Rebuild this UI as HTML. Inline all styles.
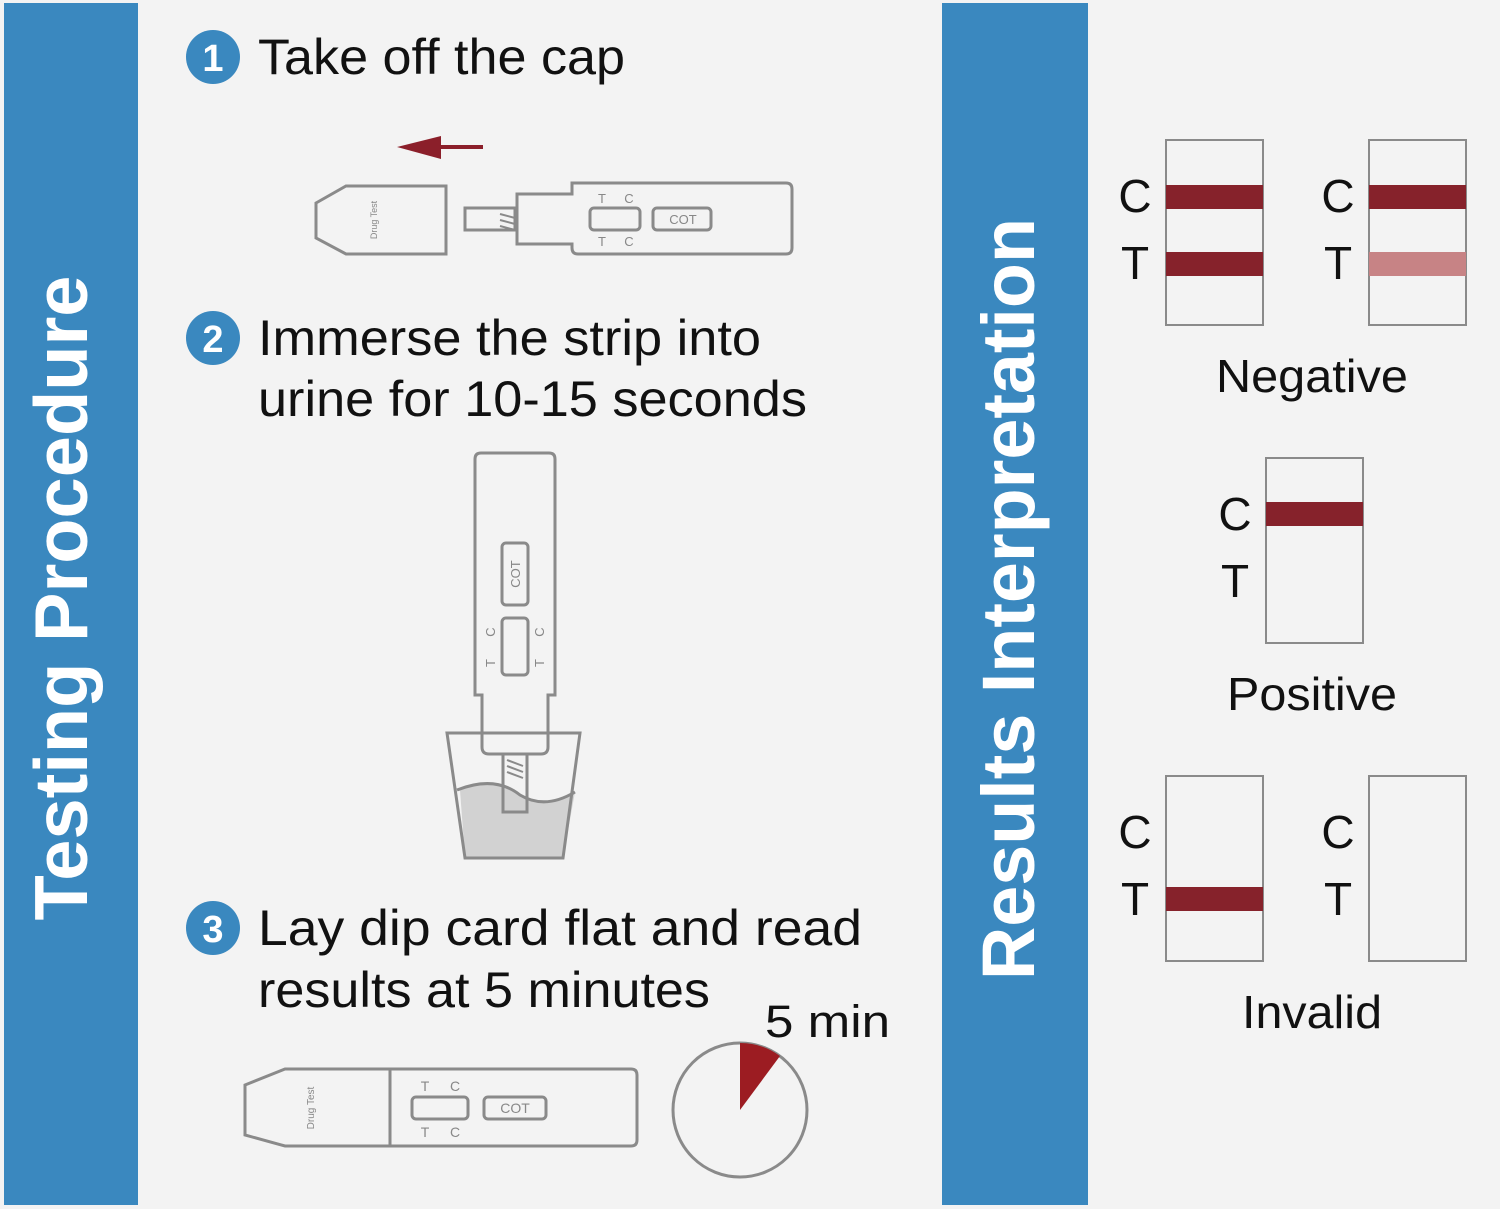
<!DOCTYPE html>
<html><head><meta charset="utf-8"><style>
html,body{margin:0;padding:0;background:#f3f3f3}
svg{display:block}
text{font-family:"Liberation Sans",Arial,sans-serif}
</style></head><body>
<svg width="1500" height="1209" viewBox="0 0 1500 1209" xmlns="http://www.w3.org/2000/svg">
<rect width="1500" height="1209" fill="#f3f3f3"/>
<rect x="4" y="3" width="134" height="1202" fill="#3a88bf"/>
<rect x="942" y="3" width="146" height="1202" fill="#3a88bf"/>
<text transform="translate(87,598) rotate(-90)" text-anchor="middle" font-size="75" font-weight="bold" fill="#fff" textLength="645" lengthAdjust="spacingAndGlyphs">Testing Procedure</text>
<text transform="translate(1034,599) rotate(-90)" text-anchor="middle" font-size="74" font-weight="bold" fill="#fff" textLength="762" lengthAdjust="spacingAndGlyphs">Results Interpretation</text>

<g fill="#3a88bf"><circle cx="213" cy="57" r="27"/><circle cx="213" cy="338" r="27"/><circle cx="213" cy="928" r="27"/></g>
<g fill="#fff" font-size="38" font-weight="bold" text-anchor="middle"><text x="213" y="71">1</text><text x="213" y="352">2</text><text x="213" y="942">3</text></g>
<g font-size="50" fill="#111">
<text x="258" y="74" textLength="367" lengthAdjust="spacingAndGlyphs">Take off the cap</text>
<text x="258" y="355" textLength="503" lengthAdjust="spacingAndGlyphs">Immerse the strip into</text>
<text x="258" y="416" textLength="549" lengthAdjust="spacingAndGlyphs">urine for 10-15 seconds</text>
<text x="258" y="945" textLength="604" lengthAdjust="spacingAndGlyphs">Lay dip card flat  and read</text>
<text x="258" y="1007" textLength="452" lengthAdjust="spacingAndGlyphs">results at 5 minutes</text>
<text x="765" y="1037" font-size="45" textLength="125" lengthAdjust="spacingAndGlyphs">5 min</text>
</g>

<!-- step1 -->
<line x1="483" y1="147" x2="430" y2="147" stroke="#8b1f2a" stroke-width="4"/>
<polygon points="397,147 441,136 441,159" fill="#8b1f2a"/>
<g fill="none" stroke="#8a8a8a" stroke-width="3">
<path d="M316,203 L346,186 L446,186 L446,254 L346,254 L316,238 Z"/>
<rect x="465" y="208" width="50" height="22"/>
<path d="M517,194 L572,194 L572,183 L786,183 Q792,183 792,189 L792,248 Q792,254 786,254 L578,254 Q572,254 572,248 L572,244 L517,244 Z"/>
<rect x="590" y="208" width="50" height="22" rx="4"/>
<rect x="653" y="208" width="58" height="22" rx="4"/>
<path d="M500,214 L515,218 M500,220 L515,224 M500,226 L515,230" stroke-width="2"/>
</g>
<text transform="translate(377,220) rotate(-90)" text-anchor="middle" font-size="9" fill="#888">Drug Test</text>
<g font-size="13" fill="#888" text-anchor="middle"><text x="602" y="203">T</text><text x="629" y="203">C</text><text x="602" y="246">T</text><text x="629" y="246">C</text><text x="683" y="224">COT</text></g>

<!-- step2 -->
<path d="M460,790 Q495,775 520,795 Q545,810 575,792 L563,858 L465,858 Z" fill="#d2d2d2"/>
<g fill="none" stroke="#8a8a8a" stroke-width="3">
<path d="M481,453 L549,453 Q555,453 555,459 L555,695 L548,695 L548,747 Q548,754 541,754 L489,754 Q482,754 482,747 L482,695 L475,695 L475,459 Q475,453 481,453 Z"/>
<rect x="503" y="754" width="24" height="58"/>
<path d="M447,733 L580,733 L563,858 L465,858 Z"/>
<path d="M457,790 Q495,775 520,795 Q545,810 575,792"/>
<rect x="502" y="543" width="26" height="62" rx="4"/>
<rect x="502" y="618" width="26" height="57" rx="4"/>
<path d="M507,760 L523,766 M507,766 L523,772 M507,772 L523,778" stroke-width="2"/>
</g>
<text transform="translate(520,574) rotate(-90)" text-anchor="middle" font-size="13" fill="#888">COT</text>
<g font-size="13" fill="#888" text-anchor="middle">
<text transform="translate(495,632) rotate(-90)">C</text><text transform="translate(495,663) rotate(-90)">T</text>
<text transform="translate(544,632) rotate(-90)">C</text><text transform="translate(544,663) rotate(-90)">T</text>
</g>

<!-- step3 -->
<g fill="none" stroke="#8a8a8a" stroke-width="3">
<path d="M245,1085 L285,1069 L631,1069 Q637,1069 637,1075 L637,1140 Q637,1146 631,1146 L285,1146 L245,1135 Z"/>
<line x1="390" y1="1069" x2="390" y2="1146"/>
<rect x="412" y="1097" width="56" height="22" rx="4"/>
<rect x="484" y="1097" width="62" height="22" rx="4"/>
<circle cx="740" cy="1110" r="67"/>
</g>
<text transform="translate(314,1108) rotate(-90)" text-anchor="middle" font-size="10" fill="#888">Drug Test</text>
<g font-size="14" fill="#888" text-anchor="middle"><text x="425" y="1091">T</text><text x="455" y="1091">C</text><text x="425" y="1137">T</text><text x="455" y="1137">C</text><text x="515" y="1113">COT</text></g>
<path d="M740,1110 L740,1043 A67,67 0 0 1 780,1056 Z" fill="#9c1c22"/>

<!-- results -->
<g fill="none" stroke="#8a8a8a" stroke-width="2">
<rect x="1166" y="140" width="97" height="185"/><rect x="1369" y="140" width="97" height="185"/>
<rect x="1266" y="458" width="97" height="185"/>
<rect x="1166" y="776" width="97" height="185"/><rect x="1369" y="776" width="97" height="185"/>
</g>
<g fill="#86222b">
<rect x="1166" y="185" width="97" height="24"/><rect x="1166" y="252" width="97" height="24"/>
<rect x="1369" y="185" width="97" height="24"/>
<rect x="1266" y="502" width="97" height="24"/>
<rect x="1166" y="887" width="97" height="24"/>
</g>
<rect x="1369" y="252" width="97" height="24" fill="#c78385"/>
<g font-size="46" fill="#111" text-anchor="middle">
<text x="1135" y="212">C</text><text x="1135" y="279">T</text>
<text x="1338" y="212">C</text><text x="1338" y="279">T</text>
<text x="1235" y="530">C</text><text x="1235" y="597">T</text>
<text x="1135" y="848">C</text><text x="1135" y="915">T</text>
<text x="1338" y="848">C</text><text x="1338" y="915">T</text>
<text x="1312" y="392" textLength="192" lengthAdjust="spacingAndGlyphs">Negative</text>
<text x="1312" y="710" textLength="170" lengthAdjust="spacingAndGlyphs">Positive</text>
<text x="1312" y="1028" textLength="140" lengthAdjust="spacingAndGlyphs">Invalid</text>
</g>
</svg>
</body></html>
